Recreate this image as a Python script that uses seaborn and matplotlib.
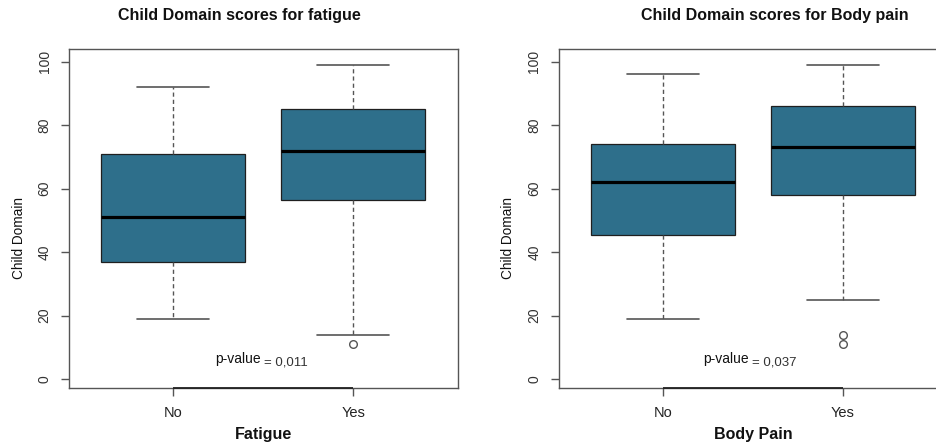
import matplotlib
matplotlib.use("Agg")
import matplotlib.pyplot as plt
import pandas as pd
import seaborn as sns

# Groups on the x axis
groups = ["No", "Yes"]

# Box summaries per group: lower whisker, Q1, median, Q3, upper whisker
fatigue_stats = [[19, 37, 51, 71, 92], [14, 56.5, 72, 85, 99]]
fatigue_outliers = [[], [11]]
pain_stats = [[19, 45.5, 62, 74, 96], [25, 58, 73, 86, 99]]
pain_outliers = [[], [14, 11]]

titles = ["Child Domain scores for fatigue", "Child Domain scores for Body pain"]
xlabels = ["Fatigue", "Body Pain"]
p_values = ["0,011", "0,037"]
yticks = [0, 20, 40, 60, 80, 100]

BOX_COLOR = "#2E6F8B"
LINE_GRAY = "#555555"


def scores_from_summary(stats, outliers, m=5):
    """Build a score sample whose Tukey box-plot summary equals `stats`."""
    lo, q1, med, q3, hi = stats
    k = len(outliers)
    return list(outliers) + [lo] + [q1] * m + [med] + [q3] * m + [hi] * (1 + k)


def long_frame(stats_list, outlier_list):
    rows = []
    for g, st, out in zip(groups, stats_list, outlier_list):
        for v in scores_from_summary(st, out):
            rows.append({"group": g, "score": v})
    return pd.DataFrame(rows)


sns.set_theme(style="white")
plt.rcParams["font.family"] = ["Liberation Sans", "DejaVu Sans"]

fig = plt.figure(figsize=(9.37, 4.48), dpi=100)
W, H = 937.0, 448.0
ax_w, ax_h = 388.7 / W, 339.3 / H
ax_b = 59.7 / H
axes = [
    fig.add_axes([69.0 / W, ax_b, ax_w, ax_h]),
    fig.add_axes([558.7 / W, ax_b, ax_w, ax_h]),
]

panels = [
    (fatigue_stats, fatigue_outliers),
    (pain_stats, pain_outliers),
]
title_x = [239 / W, 774.7 / W]
ptext_x = [(0.231, 0.503), (0.221, 0.494)]

for i, ax in enumerate(axes):
    df = long_frame(*panels[i])
    sns.boxplot(
        data=df, x="group", y="score", order=groups, ax=ax,
        color=BOX_COLOR, saturation=1, width=0.8, whis=1.5,
        boxprops={"facecolor": BOX_COLOR, "edgecolor": "#1f1f1f", "linewidth": 0.9},
        medianprops={"color": "black", "linewidth": 2.3},
        whiskerprops={"color": LINE_GRAY, "linewidth": 1.0,
                      "linestyle": (0, (3, 2.2))},
        capprops={"color": LINE_GRAY, "linewidth": 1.2},
        flierprops={"marker": "o", "markersize": 5.5,
                    "markerfacecolor": "none", "markeredgecolor": LINE_GRAY,
                    "markeredgewidth": 1.0},
    )
    ax.set_xlim(-0.58, 1.58)
    ax.set_ylim(-2.94, 104.0)
    ax.set_yticks(yticks)
    ax.set_yticklabels([str(t) for t in yticks], rotation=90, va="center",
                       fontsize=10, color="#333333")
    ax.set_xticks([0, 1])
    ax.set_xticklabels(groups, fontsize=10.5, color="#222222")
    ax.tick_params(axis="both", direction="out", length=5.5, width=1.0,
                   color=LINE_GRAY, pad=7, left=True, bottom=True)
    for s in ax.spines.values():
        s.set_visible(True)
        s.set_color(LINE_GRAY)
        s.set_linewidth(1.0)
    ax.set_xlabel("")
    ax.set_ylabel("")
    # axis line between the two category ticks
    ax.plot([0, 1], [-2.94, -2.94], color="#222222", lw=1.3, clip_on=False,
            zorder=6, solid_capstyle="butt")

    ax.text(ptext_x[i][0], 5.0, "p-value", fontsize=10, va="baseline",
            ha="left", color="#111111")
    ax.text(ptext_x[i][1], 4.2, "= " + p_values[i], fontsize=9.5,
            va="baseline", ha="left", color="#333333")

    fig.text(title_x[i], 1 - 20 / H, titles[i], ha="center", va="baseline",
             fontsize=11.5, fontweight="bold", color="#111111")
    x_center = (ax.get_position().x0 + ax.get_position().x1) / 2
    if i == 1:
        x_center = (558.7 + 194.3) / W
    fig.text(x_center, 1 - 438.5 / H, xlabels[i], ha="center", va="baseline",
             fontsize=11.5, fontweight="bold", color="#111111")

ylab_x = [18.8 / W, (18.8 + 489.7) / W]
for xx in ylab_x:
    fig.text(xx, 1 - 237.5 / H, "Child Domain", rotation=90, ha="center",
             va="center", fontsize=9.8, color="#111111")

fig.savefig("out.png", dpi=100)
